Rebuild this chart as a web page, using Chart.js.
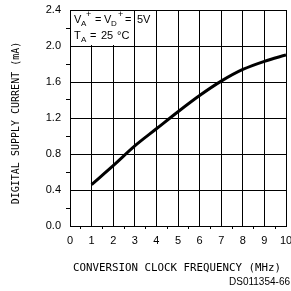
<!DOCTYPE html>
<html><head><meta charset="utf-8">
<script src="https://cdn.jsdelivr.net/npm/chart.js@4"></script>
<style>html,body{margin:0;padding:0;background:#fff;}canvas{display:block;}</style>
</head><body>
<canvas id="c" width="291" height="291"></canvas>
<script>
const freqMHz = [1, 2, 3, 4, 5, 6, 7, 8, 9, 10];
const currentMA = [0.46, 0.67, 0.89, 1.08, 1.27, 1.45, 1.61, 1.74, 1.83, 1.90];
const xTitle = 'CONVERSION CLOCK FREQUENCY (MHz)';
const yTitle = 'DIGITAL SUPPLY CURRENT (mA)';
const docId = 'DS011354-66';

const isMajorY = v => Math.round(v * 10) % 4 === 0;
const isMajorX = v => Math.abs(v - Math.round(v)) < 1e-6;

const overlay = {
  id: 'overlay',
  beforeDatasetsDraw(chart) {
    const {ctx, scales: {x, y}} = chart;
    ctx.save();
    ctx.fillStyle = '#fff';
    const x0 = x.getPixelForValue(0) + 1, x1 = x.getPixelForValue(2.93);
    const y0 = y.getPixelForValue(2.4) + 1, y1 = y.getPixelForValue(2.0) - 1;
    ctx.fillRect(x0, y0, x1 - x0, y1 - y0);
    ctx.restore();
  },
  afterDraw(chart) {
    const {ctx} = chart;
    ctx.save();
    ctx.fillStyle = '#000';
    ctx.textAlign = 'left'; ctx.textBaseline = 'alphabetic';
    const put = (t, px, by, size) => {
      ctx.font = size + 'px "Liberation Sans", Arial, sans-serif';
      ctx.fillText(t, px, by);
    };
    // line 1: VA+ = VD+ = 5V
    put('V', 74, 23, 11); put('A', 81, 26, 8); put('+', 86, 17, 9);
    put('=', 95, 23, 11); put('V', 104, 23, 11); put('D', 111, 26, 8); put('+', 118, 17, 9);
    put('=', 125, 23, 11); put('5V', 137, 23, 11);
    // line 2: TA = 25 °C
    put('T', 74, 39, 11); put('A', 81, 42, 8);
    put('=', 90, 39, 11); put('25', 101, 39, 11); put('\u00B0C', 117, 39, 11);
    // titles
    ctx.font = '10.8px "DejaVu Sans Mono", monospace';
    ctx.textAlign = 'center'; ctx.textBaseline = 'middle';
    ctx.fillText(xTitle, 177, 268);
    ctx.save();
    ctx.translate(16, 123);
    ctx.rotate(-Math.PI / 2);
    ctx.font = '10px "DejaVu Sans Mono", monospace';
    ctx.fillText(yTitle, 0, 0);
    ctx.restore();
    ctx.font = '10px "Liberation Sans", Arial, sans-serif';
    ctx.textAlign = 'right';
    ctx.fillText(docId, 290, 282);
    ctx.restore();
  }
};

new Chart(document.getElementById('c'), {
  type: 'line',
  data: {
    datasets: [{
      data: freqMHz.map((f, i) => ({x: f, y: currentMA[i]})),
      borderColor: '#000',
      borderWidth: 3,
      pointRadius: 0,
      cubicInterpolationMode: 'monotone',
      fill: false
    }]
  },
  options: {
    responsive: false,
    animation: false,
    devicePixelRatio: 1,
    layout: {padding: {top: 10, right: 5, left: 0, bottom: 0}},
    plugins: {legend: {display: false}, tooltip: {enabled: false}},
    scales: {
      x: {
        type: 'linear', min: 0, max: 10,
        afterFit: s => { s.height = 65; s.paddingRight = 0; s.paddingLeft = 0; },
        ticks: {
          stepSize: 0.5, autoSkip: false, maxRotation: 0, padding: 5,
          color: '#000',
          font: {family: '"Liberation Sans", Arial, sans-serif', size: 11},
          callback: v => isMajorX(v) ? String(Math.round(v)) : ''
        },
        grid: {
          color: c => (c.tick && isMajorX(c.tick.value)) ? '#000' : 'rgba(0,0,0,0)',
          tickColor: c => (c.tick && isMajorX(c.tick.value)) ? 'rgba(0,0,0,0)' : '#000',
          tickLength: 3, lineWidth: 1
        },
        border: {color: '#000', width: 1}
      },
      y: {
        type: 'linear', min: 0, max: 2.4,
        afterFit: s => { s.width = 70; s.paddingTop = 0; s.paddingBottom = 0; },
        ticks: {
          stepSize: 0.2, autoSkip: false, padding: 5,
          color: '#000',
          font: {family: '"Liberation Sans", Arial, sans-serif', size: 11},
          callback: v => isMajorY(v) ? v.toFixed(1) : ''
        },
        grid: {
          color: c => (c.tick && isMajorY(c.tick.value)) ? '#000' : 'rgba(0,0,0,0)',
          tickColor: c => (c.tick && isMajorY(c.tick.value)) ? 'rgba(0,0,0,0)' : '#000',
          tickLength: 4, lineWidth: 1
        },
        border: {color: '#000', width: 1}
      }
    }
  },
  plugins: [overlay]
});
</script>
</body></html>
